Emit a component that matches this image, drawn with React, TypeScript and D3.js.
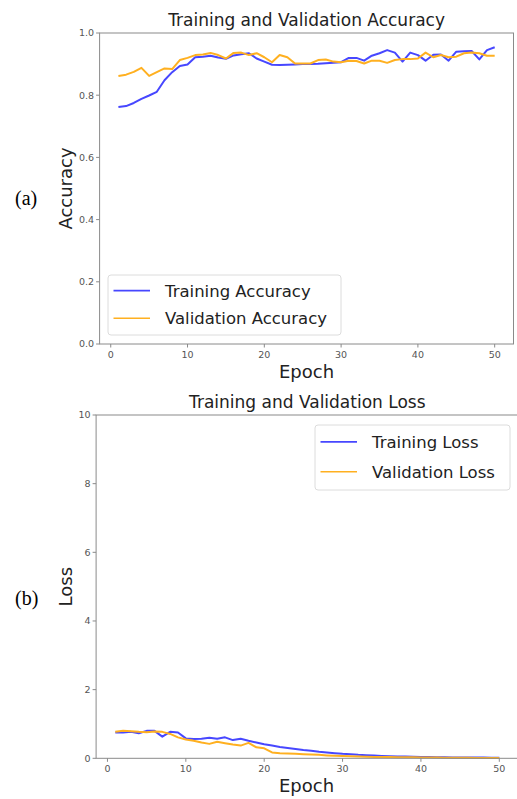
import React from "react";
import * as d3 from "d3";

const epochs = d3.range(1, 51);

const trainAcc = [
  0.762, 0.765, 0.775, 0.788, 0.799, 0.811, 0.848, 0.874, 0.894, 0.899,
  0.922, 0.924, 0.927, 0.921, 0.917, 0.928, 0.932, 0.935, 0.918, 0.908,
  0.898, 0.897, 0.898, 0.899, 0.9, 0.9, 0.901, 0.903, 0.904, 0.906,
  0.92, 0.92, 0.911, 0.927, 0.935, 0.945, 0.937, 0.908, 0.937, 0.929,
  0.911, 0.93, 0.931, 0.911, 0.94, 0.941, 0.942, 0.915, 0.945, 0.954,
];
const valAcc = [
  0.862, 0.866, 0.875, 0.888, 0.862, 0.874, 0.886, 0.884, 0.913, 0.92,
  0.929, 0.931, 0.936, 0.929, 0.918, 0.936, 0.937, 0.929, 0.935, 0.922,
  0.906, 0.929, 0.922, 0.902, 0.902, 0.902, 0.913, 0.915, 0.908, 0.906,
  0.911, 0.91, 0.902, 0.911, 0.911, 0.904, 0.913, 0.916, 0.916, 0.918,
  0.937, 0.922, 0.929, 0.922, 0.924, 0.935, 0.937, 0.935, 0.927, 0.927,
];
const trainLoss = [
  0.75, 0.75, 0.77, 0.73, 0.8, 0.8, 0.63, 0.77, 0.75, 0.58,
  0.56, 0.57, 0.6, 0.57, 0.61, 0.53, 0.57, 0.51, 0.46, 0.41,
  0.37, 0.33, 0.3, 0.27, 0.24, 0.22, 0.19, 0.17, 0.15, 0.13,
  0.12, 0.1, 0.09, 0.08, 0.07, 0.06, 0.055, 0.05, 0.045, 0.04,
  0.035, 0.03, 0.028, 0.026, 0.024, 0.022, 0.021, 0.02, 0.019, 0.018,
];
const valLoss = [
  0.77, 0.8, 0.79, 0.77, 0.76, 0.78, 0.77, 0.71, 0.61, 0.55,
  0.51, 0.46, 0.42, 0.48, 0.44, 0.4, 0.37, 0.45, 0.32, 0.29,
  0.17, 0.15, 0.14, 0.13, 0.12, 0.11, 0.1, 0.085, 0.075, 0.067,
  0.06, 0.05, 0.045, 0.04, 0.038, 0.035, 0.032, 0.03, 0.027, 0.025,
  0.022, 0.02, 0.018, 0.016, 0.015, 0.013, 0.012, 0.011, 0.01, 0.01,
];

const xTicks = [0, 10, 20, 30, 40, 50];
const accTicks = [0, 0.2, 0.4, 0.6, 0.8, 1.0];
const lossTicks = [0, 2, 4, 6, 8, 10];

const BLUE = "#4747ff";
const ORANGE = "#ffb020";
const FONT = "DejaVu Sans, sans-serif";
const SPINE = "#8a8a8a";
const TICKTXT = "#555";

type PanelProps = {
  left: number; right: number; top: number; bottom: number;
  yDomain: [number, number]; yTicks: number[]; yFmt: (v: number) => string;
  train: number[]; val: number[]; title: string; yLabel: string;
  trainLabel: string; valLabel: string;
  legend: { x: number; y: number; w: number; h: number };
  panelTag: string; tagY: number;
};

function Panel(p: PanelProps) {
  const x = d3.scaleLinear().domain([-1.45, 52.45]).range([p.left, p.right]);
  const y = d3.scaleLinear().domain(p.yDomain).range([p.bottom, p.top]);
  const line = d3.line<number>().x((_, i) => x(epochs[i])).y((d) => y(d));
  const cx = (p.left + Math.min(p.right, 517)) / 2;
  const cxT = (p.left + p.right) / 2;
  const cy = (p.top + p.bottom) / 2;
  const L = p.legend;
  return (
    <g>
      <text x={cxT} y={p.top - 7} textAnchor="middle" fontFamily={FONT} fontSize={17} fill="#222">{p.title}</text>
      <path d={line(p.train) || ""} fill="none" stroke={BLUE} strokeWidth={2} strokeLinejoin="round" />
      <path d={line(p.val) || ""} fill="none" stroke={ORANGE} strokeWidth={2} strokeLinejoin="round" />
      <rect x={p.left} y={p.top} width={p.right - p.left} height={p.bottom - p.top} fill="none" stroke={SPINE} strokeWidth={1} />
      {p.yTicks.map((t) => (
        <g key={"y" + t}>
          <line x1={p.left - 3.5} x2={p.left} y1={y(t)} y2={y(t)} stroke={SPINE} />
          <text x={p.left - 5.5} y={y(t) + 3.3} textAnchor="end" fontFamily={FONT} fontSize={9.5} fill={TICKTXT}>{p.yFmt(t)}</text>
        </g>
      ))}
      {xTicks.map((t) => (
        <g key={"x" + t}>
          <line x1={x(t)} x2={x(t)} y1={p.bottom} y2={p.bottom + 3.5} stroke={SPINE} />
          <text x={x(t)} y={p.bottom + 14} textAnchor="middle" fontFamily={FONT} fontSize={9.5} fill={TICKTXT}>{t}</text>
        </g>
      ))}
      <text x={cx} y={p.bottom + 34} textAnchor="middle" fontFamily={FONT} fontSize={18} fill="#222">Epoch</text>
      <text transform={`translate(72,${cy}) rotate(-90)`} textAnchor="middle" fontFamily={FONT} fontSize={18} fill="#222">{p.yLabel}</text>
      <text x={15} y={p.tagY} fontFamily="Liberation Serif, Times New Roman, serif" fontSize={20} fill="#000">{p.panelTag}</text>
      <rect x={L.x} y={L.y} width={L.w} height={L.h} rx={3} fill="#fff" fillOpacity={0.85} stroke="#dcdcdc" />
      <line x1={L.x + 5.5} x2={L.x + 42} y1={L.y + L.h * 0.26} y2={L.y + L.h * 0.26} stroke={BLUE} strokeWidth={1.6} />
      <line x1={L.x + 5.5} x2={L.x + 42} y1={L.y + L.h * 0.72} y2={L.y + L.h * 0.72} stroke={ORANGE} strokeWidth={1.6} />
      <text x={L.x + 57} y={L.y + L.h * 0.26 + 6} fontFamily={FONT} fontSize={16.5} fill="#222">{p.trainLabel}</text>
      <text x={L.x + 57} y={L.y + L.h * 0.72 + 6} fontFamily={FONT} fontSize={16.5} fill="#222">{p.valLabel}</text>
    </g>
  );
}

export default function App() {
  return (
    <svg width={517} height={799} style={{ position: "absolute", left: 0, top: 0, background: "#fff" }}>
      <rect x={0} y={0} width={517} height={799} fill="#fff" />
      <Panel
        left={99.6} right={513.5} top={33} bottom={344}
        yDomain={[0, 1]} yTicks={accTicks} yFmt={d3.format(".1f")}
        train={trainAcc} val={valAcc}
        title="Training and Validation Accuracy" yLabel="Accuracy"
        trainLabel="Training Accuracy" valLabel="Validation Accuracy"
        legend={{ x: 108, y: 275, w: 233, h: 60 }}
        panelTag="(a)" tagY={205}
      />
      <Panel
        left={96.1} right={518.5} top={415} bottom={758.3}
        yDomain={[0, 10]} yTicks={lossTicks} yFmt={(v) => String(v)}
        train={trainLoss} val={valLoss}
        title="Training and Validation Loss" yLabel="Loss"
        trainLabel="Training Loss" valLabel="Validation Loss"
        legend={{ x: 315, y: 425, w: 195, h: 65 }}
        panelTag="(b)" tagY={605}
      />
    </svg>
  );
}
